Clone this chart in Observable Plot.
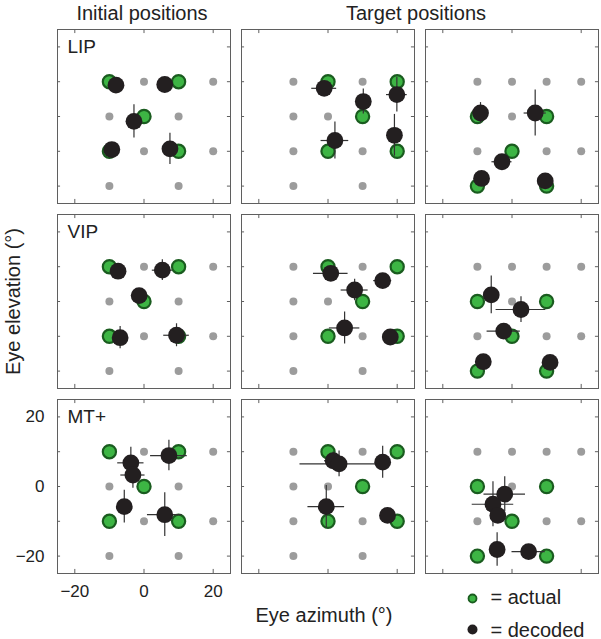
<!DOCTYPE html>
<html><head><meta charset="utf-8">
<script src="https://cdn.jsdelivr.net/npm/d3@7"></script>
<script src="https://cdn.jsdelivr.net/npm/@observablehq/plot@0.6"></script>
<style>html,body{margin:0;padding:0;background:#fff}</style>
</head><body><div id="chart"></div>
<script>
// ---- data ----
const areas = ["LIP", "VIP", "MT+"];
const conditions = ["Initial", "TargetA", "TargetB"];
const columnTitles = ["Initial positions", "Target positions"];
const xTicks = [-20, 0, 20];
const yTicks = [20, 10, 0, -10, -20];
const xTickLabels = [-20, 0, 20];
const yTickLabels = [20, 0, -20];
const legendLabels = ["= actual", "= decoded"];
const axisLabels = ["Eye azimuth (°)", "Eye elevation (°)"];

// grey grid of possible eye positions
const gridDots = [[-10,10],[0,10],[10,10],[20,10],[-10,0],[0,0],[10,0],
                  [-10,-10],[0,-10],[10,-10],[20,-10],[-10,-20],[10,-20]];

// actual (green) positions per condition
const actualInitial = [[-10,10],[10,10],[0,0],[-10,-10],[10,-10]];
const actualTargetA = [[0,10],[20,10],[10,0],[0,-10],[20,-10]];
const actualTargetB = [[-10,0],[10,0],[0,-10],[-10,-20],[10,-20]];

// decoded (black) positions: [x, y, xErr, yErr]
const decodedLIPInitial = [[-8.1,9.0,0,0],[6.0,9.2,0,0],[-2.9,-1.4,0,4.8],[-9.3,-9.5,0,0],[7.5,-9.3,0,4.5]];
const decodedLIPTargetA = [[-1.1,8.1,3.6,1.5],[10.2,4.3,0,3.6],[19.9,6.3,3,5],[2.0,-6.9,4,5.3],[19.2,-5.4,0,6]];
const decodedLIPTargetB = [[-9.1,1.0,0,3],[6.7,1.0,3.2,6.6],[-2.9,-13.0,2.9,0],[-8.8,-17.8,0,0],[9.6,-18.5,0,0]];
const decodedVIPInitial = [[-7.5,8.7,0,0],[5.3,9.0,2.9,3],[-1.4,1.7,0,0],[-6.9,-10.4,0,3.2],[9.4,-9.7,3.7,3.3]];
const decodedVIPTargetA = [[0.8,8.1,5,0],[7.7,3.3,3.9,3.1],[15.8,6.0,2.6,0],[4.8,-7.6,4.4,4.6],[18.0,-10.2,0,2]];
const decodedVIPTargetB = [[-6.0,1.9,0,5.4],[2.6,-2.3,7.2,3.7],[-2.4,-8.5,4.8,0],[-8.3,-17.3,0,0],[11.0,-17.5,0,0]];
const decodedMTInitial  = [[-3.8,6.8,3.8,4.5],[-3.2,3.3,3.5,3.8],[7.2,8.9,5.3,4.4],[-5.7,-5.8,0,4.7],[6.0,-8.1,5,6.3]];
const decodedMTTargetA  = [[1.5,7.4,2.5,2.5],[3.2,6.5,11.3,3.7],[15.8,7.0,0,4.6],[-0.5,-5.8,5.3,6.1],[17.2,-8.3,0,0]];
const decodedMTTargetB  = [[-2.1,-2.2,6,5],[-5.5,-5.1,6,6.5],[-4.1,-8.3,0,0],[-4.3,-18.1,0,4.8],[4.8,-18.7,4.8,0]];

// ---- tables ----
const actualBy = {Initial: actualInitial, TargetA: actualTargetA, TargetB: actualTargetB};
const decodedBy = {
  "LIP": {Initial: decodedLIPInitial, TargetA: decodedLIPTargetA, TargetB: decodedLIPTargetB},
  "VIP": {Initial: decodedVIPInitial, TargetA: decodedVIPTargetA, TargetB: decodedVIPTargetB},
  "MT+": {Initial: decodedMTInitial,  TargetA: decodedMTTargetA,  TargetB: decodedMTTargetB}
};
const actualRows = areas.flatMap(a => conditions.flatMap(c =>
  actualBy[c].map(([x, y]) => ({area: a, cond: c, x, y}))));
const decodedRows = areas.flatMap(a => conditions.flatMap(c =>
  decodedBy[a][c].map(([x, y, ex, ey]) => ({area: a, cond: c, x, y, ex, ey}))));

// ---- layout ----
const W = 601, H = 639;
const mTop = 29, mBottom = 66, mLeft = 56, mRight = 2;
const pad = 0.06;
const PANEL = (H - mTop - mBottom) / (3 - pad) * (1 - pad);
const TICK = 4;
const frameColor = "#5f5f5f";
const font = "'Liberation Sans', Arial, Helvetica, sans-serif";

const chart = Plot.plot({
  width: W, height: H,
  marginTop: mTop, marginBottom: mBottom, marginLeft: mLeft, marginRight: mRight,
  style: {fontFamily: font, background: "#fff", color: "#222"},
  x: {domain: [-25, 25], axis: null},
  y: {domain: [-25, 25], axis: null},
  fx: {domain: conditions, paddingInner: pad, paddingOuter: 0, axis: null},
  fy: {domain: areas, paddingInner: pad, paddingOuter: 0, axis: null},
  marks: [
    Plot.frame({stroke: frameColor, strokeWidth: 1}),
    // inward tick marks on all four sides
    Plot.tickX(xTicks, {x: d => d, insetTop: PANEL - TICK, stroke: frameColor}),
    Plot.tickX(xTicks, {x: d => d, insetBottom: PANEL - TICK, stroke: frameColor}),
    Plot.tickY(yTicks, {y: d => d, insetRight: PANEL - TICK, stroke: frameColor}),
    Plot.tickY(yTicks, {y: d => d, insetLeft: PANEL - TICK, stroke: frameColor}),
    // grey grid
    Plot.dot(gridDots, {x: d => d[0], y: d => d[1], r: 4, fill: "#9c9c9c"}),
    // actual
    Plot.dot(actualRows, {fx: "cond", fy: "area", x: "x", y: "y", r: 6.6,
      fill: "#3db544", stroke: "#1a5c1f", strokeWidth: 2.2}),
    // error bars
    Plot.ruleY(decodedRows.filter(d => d.ex > 0), {fx: "cond", fy: "area", y: "y",
      x1: d => d.x - d.ex, x2: d => d.x + d.ex, stroke: "#333", strokeWidth: 1.2}),
    Plot.ruleX(decodedRows.filter(d => d.ey > 0), {fx: "cond", fy: "area", x: "x",
      y1: d => d.y - d.ey, y2: d => d.y + d.ey, stroke: "#333", strokeWidth: 1.2}),
    // decoded
    Plot.dot(decodedRows, {fx: "cond", fy: "area", x: "x", y: "y", r: 8.4, fill: "#231f20"}),
    // panel labels
    Plot.text(areas, {fx: () => "Initial", fy: d => d, text: d => d, frameAnchor: "top-left",
      textAnchor: "start", lineAnchor: "top", dx: 10, dy: 10, fontSize: 19, fill: "#222"}),
    // tick labels (bottom-left panel only)
    Plot.text(yTickLabels, {fx: () => "Initial", fy: () => "MT+", y: d => d,
      text: d => d3.format("")(d).replace("-", "\u2212"),
      frameAnchor: "left", textAnchor: "end", dx: -13, fontSize: 17, fill: "#222"}),
    Plot.text(xTickLabels, {fx: () => "Initial", fy: () => "MT+", x: d => d,
      text: d => d3.format("")(d).replace("-", "\u2212"),
      frameAnchor: "bottom", lineAnchor: "middle", dy: 18, fontSize: 17, fill: "#222"}),
    // column titles
    Plot.text([columnTitles[0]], {fx: () => "Initial", fy: () => "LIP", text: d => d,
      frameAnchor: "top", textAnchor: "middle", lineAnchor: "bottom", dx: -2, dy: -10, fontSize: 20, fill: "#222"}),
    Plot.text([columnTitles[1]], {fx: () => "TargetA", fy: () => "LIP", text: d => d,
      frameAnchor: "top-right", textAnchor: "middle", lineAnchor: "bottom", dx: 1.5, dy: -10, fontSize: 20, fill: "#222"}),
    // axis titles
    Plot.text([axisLabels[0]], {fx: () => "TargetA", fy: () => "MT+", text: d => d,
      frameAnchor: "bottom", textAnchor: "middle", lineAnchor: "bottom", dx: -4, dy: 48, fontSize: 20, fill: "#222"}),
    Plot.text([axisLabels[1]], {fx: () => "Initial", fy: () => "VIP", text: d => d,
      frameAnchor: "left", textAnchor: "middle", lineAnchor: "middle", rotate: -90, dx: -44, fontSize: 20, fill: "#222"}),
    // legend
    Plot.dot([legendLabels[0]], {fx: () => "TargetB", fy: () => "MT+", frameAnchor: "bottom-left",
      dx: 47, dy: 25, r: 4, fill: "#3db544", stroke: "#1a5c1f", strokeWidth: 1.8}),
    Plot.dot([legendLabels[1]], {fx: () => "TargetB", fy: () => "MT+", frameAnchor: "bottom-left",
      dx: 47, dy: 56, r: 5, fill: "#231f20"}),
    Plot.text([legendLabels[0]], {fx: () => "TargetB", fy: () => "MT+", text: d => d,
      frameAnchor: "bottom-left", textAnchor: "start", lineAnchor: "bottom",
      dx: 65, dy: 30.5, fontSize: 20, fill: "#222"}),
    Plot.text([legendLabels[1]], {fx: () => "TargetB", fy: () => "MT+", text: d => d,
      frameAnchor: "bottom-left", textAnchor: "start", lineAnchor: "bottom",
      dx: 65, dy: 63, fontSize: 20, fill: "#222"})
  ]
});
document.getElementById("chart").appendChild(chart);
</script></body></html>
